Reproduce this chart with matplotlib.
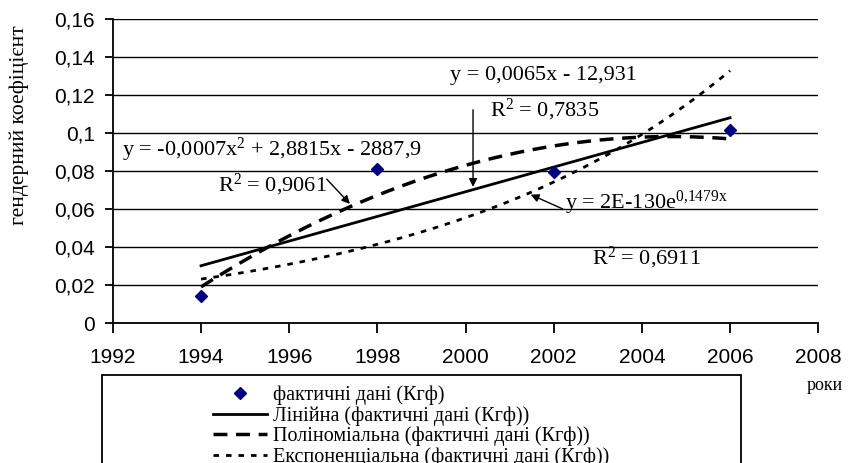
import numpy as np
import matplotlib
matplotlib.use("Agg")
import matplotlib.pyplot as plt
from matplotlib.patches import Rectangle

years = [1994, 1998, 2002, 2006]
kgf = [0.0145, 0.081, 0.0795, 0.1015]

x_ticks = [1992, 1994, 1996, 1998, 2000, 2002, 2004, 2006, 2008]
y_ticks = [0, 0.02, 0.04, 0.06, 0.08, 0.1, 0.12, 0.14, 0.16]
y_tick_labels = ["0", "0,02", "0,04", "0,06", "0,08", "0,1", "0,12", "0,14", "0,16"]

legend_labels = ["фактичні дані (Кгф)",
                 "Лінійна (фактичні дані (Кгф))",
                 "Поліноміальна (фактичні дані (Кгф))",
                 "Експоненціальна (фактичні дані (Кгф))"]

eq_lin = "y = 0,0065x - 12,931"
r2_lin = "R$^2$ = 0,7835"
eq_poly = "y = -0,0007x$^2$ + 2,8815x - 2887,9"
r2_poly = "R$^2$ = 0,9061"
eq_exp = "y = 2E-130e$^{0{,}1479x}$"
r2_exp = "R$^2$ = 0,6911"

plt.rcParams["mathtext.fontset"] = "custom"
plt.rcParams["mathtext.rm"] = "Liberation Serif"
plt.rcParams["mathtext.it"] = "Liberation Serif"
plt.rcParams["mathtext.default"] = "rm"

serif = "Liberation Serif"
sans = "Liberation Sans"

# trend lines from the data
x = np.array(years, dtype=float)
y = np.array(kgf)
xs = np.linspace(x[0], x[-1], 200)
lin = np.polyfit(x - 2000, y, 1)
poly = np.polyfit(x - 2000, y, 2)
expf = np.polyfit(x - 2000, np.log(y), 1)
y_lin = np.polyval(lin, xs - 2000)
y_poly = np.polyval(poly, xs - 2000)
y_exp = np.exp(np.polyval(expf, xs - 2000))

fig = plt.figure(figsize=(8.55, 4.63), dpi=100)
ax = fig.add_axes([0.132, 0.302, 0.825, 0.657])

ax.plot(x, y, "D", color="#000080", markersize=6.5, label=legend_labels[0], zorder=5)
ax.plot(xs, y_lin, "-", color="black", lw=2, label=legend_labels[1])
ax.plot(xs, y_poly, color="black", lw=2.5, dashes=(4, 2.5), label=legend_labels[2])
ax.plot(xs, y_exp, color="black", lw=2, dashes=(2, 2.5), label=legend_labels[3])

ax.set_xlim(1992, 2008)
ax.set_ylim(0, 0.16)
ax.set_xticks(x_ticks)
ax.set_xticklabels([str(t) for t in x_ticks], fontfamily=sans, fontsize=15)
ax.set_yticks(y_ticks)
ax.set_yticklabels(y_tick_labels, fontfamily=sans, fontsize=15)
ax.tick_params(axis="x", direction="out", length=7, width=1.3, pad=11)
ax.tick_params(axis="y", direction="out", length=6, width=1.3, pad=7)
ax.yaxis.grid(True, color="black", lw=1)
ax.set_axisbelow(True)
for s in ["top", "right"]:
    ax.spines[s].set_visible(False)
for s in ["left", "bottom"]:
    ax.spines[s].set_linewidth(1.3)

tfs = 16
ax.text(1999.65, 0.1305, eq_lin, fontfamily=serif, fontsize=tfs, va="center")
ax.text(2000.56, 0.112, r2_lin, fontfamily=serif, fontsize=tfs, va="center")
xa = 2000.17
ax.annotate("", xy=(xa, np.polyval(lin, xa - 2000)), xytext=(xa, 0.1137),
            arrowprops=dict(arrowstyle="-|>", color="black", lw=1, mutation_scale=12))

ax.text(1992.2, 0.091, eq_poly, fontfamily=serif, fontsize=tfs, va="center")
ax.text(1994.38, 0.0726, r2_poly, fontfamily=serif, fontsize=tfs, va="center")
xp = 1997.42
ax.annotate("", xy=(xp, np.polyval(poly, xp - 2000)), xytext=(1996.81, 0.0768),
            arrowprops=dict(arrowstyle="-|>", color="black", lw=1, mutation_scale=12))

ax.text(2002.26, 0.063, eq_exp, fontfamily=serif, fontsize=tfs, va="center")
ax.text(2002.87, 0.0342, r2_exp, fontfamily=serif, fontsize=tfs, va="center")
xe = 2001.42
ax.annotate("", xy=(xe, np.exp(np.polyval(expf, xe - 2000))), xytext=(2002.26, 0.0595),
            arrowprops=dict(arrowstyle="-|>", color="black", lw=1, mutation_scale=12))

fig.text(0.023, 0.73, "гендерний коефіцієнт", rotation=90, fontfamily=serif,
         fontsize=15.5, ha="center", va="center")
fig.text(0.965, 0.168, "роки", fontfamily=serif, fontsize=13, ha="center", va="center")

leg = ax.legend(loc="upper left", bbox_to_anchor=(0.249, 0.168),
                bbox_transform=fig.transFigure, frameon=False,
                prop={"family": serif, "size": 14.5}, handlelength=2.7,
                handletextpad=0.3, labelspacing=0.05, borderpad=0, borderaxespad=0)

fig.patches.append(Rectangle((0.119, -0.2), 0.748, 0.39, transform=fig.transFigure,
                             fill=False, edgecolor="black", lw=1.3))

fig.savefig("out.png", dpi=100)
